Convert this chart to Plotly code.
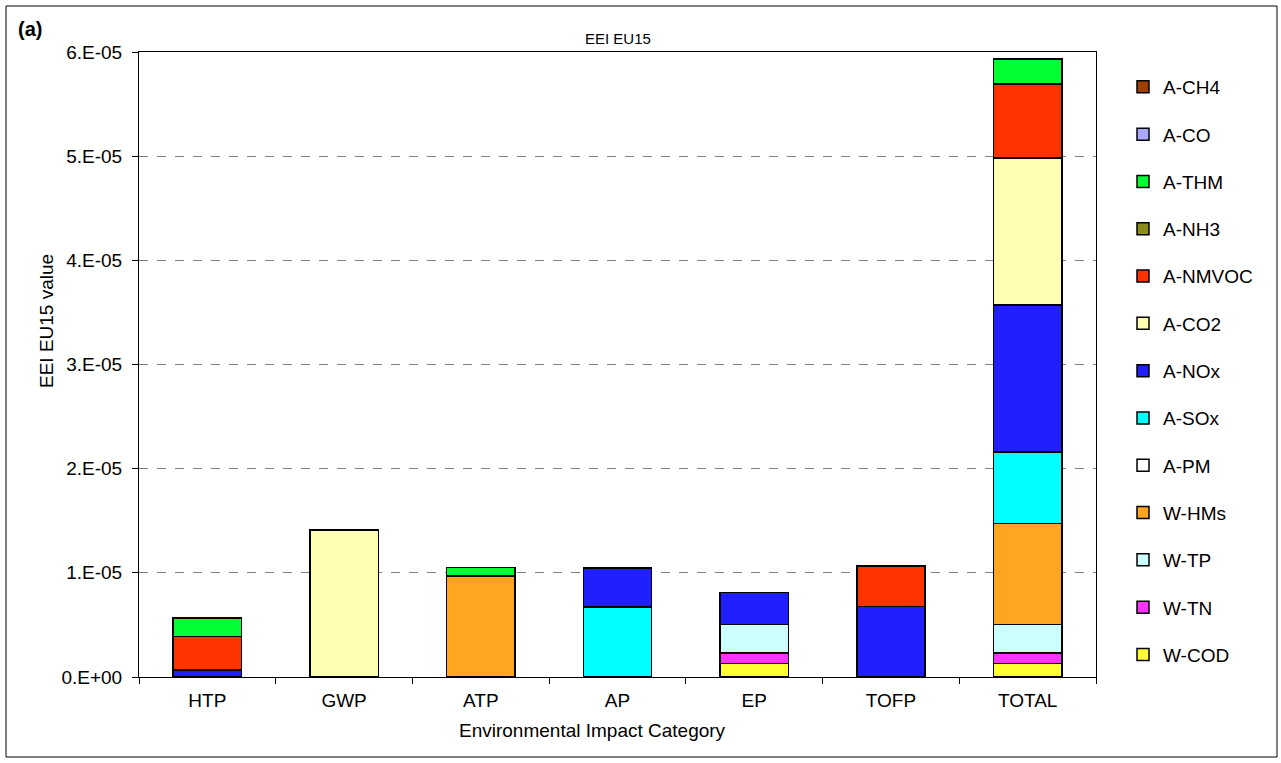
import plotly.graph_objects as go

# Impact categories on the x axis
categories = ["HTP", "GWP", "ATP", "AP", "EP", "TOFP", "TOTAL"]

# Contribution of each emission to each impact category (stack order: bottom -> top)
w_cod   = [0,       0,       0,       0,       1.28e-6, 0,       1.28e-6]
w_tn    = [0,       0,       0,       0,       1.02e-6, 0,       1.02e-6]
w_tp    = [0,       0,       0,       0,       2.72e-6, 0,       2.72e-6]
w_hms   = [0,       0,       9.72e-6, 0,       0,       0,       9.73e-6]
a_pm    = [0,       0,       0,       0,       0,       0,       0]
a_sox   = [0,       0,       0,       6.72e-6, 0,       0,       6.87e-6]
a_nox   = [6.5e-7,  0,       0,       3.76e-6, 3.07e-6, 6.75e-6, 1.41e-5]
a_co2   = [0,       1.41e-5, 0,       0,       0,       0,       1.41e-5]
a_nmvoc = [3.25e-6, 0,       0,       0,       0,       3.9e-6,  7.1e-6]
a_nh3   = [0,       0,       0,       0,       0,       0,       0]
a_thm   = [1.75e-6, 0,       7.7e-7,  0,       0,       0,       2.43e-6]
a_co    = [0,       0,       0,       0,       0,       0,       0]
a_ch4   = [0,       0,       0,       0,       0,       0,       0]

series = [
    ("W-COD",   w_cod,   "#FFFF33"),
    ("W-TN",    w_tn,    "#FF33FF"),
    ("W-TP",    w_tp,    "#CCFFFF"),
    ("W-HMs",   w_hms,   "#FFA522"),
    ("A-PM",    a_pm,    "#FFFFFF"),
    ("A-SOx",   a_sox,   "#00FFFF"),
    ("A-NOx",   a_nox,   "#2020FF"),
    ("A-CO2",   a_co2,   "#FFFFB3"),
    ("A-NMVOC", a_nmvoc, "#FF3300"),
    ("A-NH3",   a_nh3,   "#8C8C1A"),
    ("A-THM",   a_thm,   "#00FF33"),
    ("A-CO",    a_co,    "#A8A8FF"),
    ("A-CH4",   a_ch4,   "#A04000"),
]

y_ticks = [0, 1e-5, 2e-5, 3e-5, 4e-5, 5e-5, 6e-5]
y_tick_text = ["0.E+00", "1.E-05", "2.E-05", "3.E-05", "4.E-05", "5.E-05", "6.E-05"]

W, H = 1281, 763
ML, MR, MT, MB = 139, 185, 52, 86
PW, PH = W - ML - MR, H - MT - MB

FONT = "Arial, Liberation Sans, sans-serif"
FS = 19

fig = go.Figure()
n = len(series)
for i, (name, vals, color) in enumerate(series):
    fig.add_trace(go.Bar(
        x=categories,
        y=[v if v else None for v in vals],
        name=name,
        legendgroup=name,
        legendrank=n - i,
        marker=dict(color=color, line=dict(color="#000000", width=1.5)),
        width=0.5,
    ))

def px_x(p):
    return (p - ML) / PW

def px_y(p):
    return (H - MB - p) / PH

shapes = [
    # outer frame of the chart
    dict(type="rect", xref="paper", yref="paper",
         x0=px_x(6), x1=px_x(1277), y0=px_y(757), y1=px_y(6),
         line=dict(color="#000000", width=1), layer="below"),
]

fig.update_layout(
    width=W, height=H,
    margin=dict(l=ML, r=MR, t=MT, b=MB),
    paper_bgcolor="white", plot_bgcolor="white",
    barmode="stack",
    bargap=0.5,
    font=dict(family=FONT, size=FS, color="#000000"),
    showlegend=True,
    legend=dict(
        traceorder="grouped",
        tracegroupgap=19.6,
        x=1123 / W, xref="container", xanchor="left",
        y=px_y(68), yref="paper", yanchor="top",
        font=dict(family=FONT, size=FS, color="#000000"),
        bgcolor="rgba(0,0,0,0)",
        itemwidth=30,
    ),
    xaxis=dict(
        showline=True, linecolor="#000000", linewidth=1, mirror=True,
        ticks="outside", tickson="boundaries", ticklen=6, tickcolor="#000000",
        showgrid=False,
        tickfont=dict(family=FONT, size=FS),
        ticklabelstandoff=6,
    ),
    yaxis=dict(
        range=[0, 6e-5],
        tickvals=y_ticks, ticktext=y_tick_text,
        showline=True, linecolor="#000000", linewidth=1, mirror=True,
        ticks="outside", ticklen=6, tickcolor="#000000",
        showgrid=True, gridcolor="#808080", griddash="dash", gridwidth=1,
        zeroline=False,
        tickfont=dict(family=FONT, size=FS),
        ticklabelstandoff=6,
    ),
    # companion axis giving the inner half of the crossing y ticks
    yaxis2=dict(
        overlaying="y", side="left", range=[0, 6e-5],
        tickvals=y_ticks, showticklabels=False,
        ticks="inside", ticklen=6, tickcolor="#000000",
        showgrid=False, zeroline=False, showline=False,
    ),
    shapes=shapes,
    annotations=[
        dict(text="<b>(a)</b>", xref="paper", yref="paper",
             x=px_x(16), y=px_y(29), xanchor="left", yanchor="middle",
             showarrow=False, font=dict(family=FONT, size=20)),
        dict(text="EEI EU15", xref="paper", yref="paper",
             x=px_x(618), y=px_y(38), xanchor="center", yanchor="middle",
             showarrow=False, font=dict(family=FONT, size=15)),
        dict(text="EEI EU15 value", xref="paper", yref="paper",
             x=px_x(46), y=px_y(321), xanchor="center", yanchor="middle",
             textangle=-90, showarrow=False, font=dict(family=FONT, size=FS)),
        dict(text="Environmental Impact Category", xref="paper", yref="paper",
             x=px_x(592), y=px_y(730), xanchor="center", yanchor="middle",
             showarrow=False, font=dict(family=FONT, size=FS)),
    ],
)

fig.write_html("out.html")
